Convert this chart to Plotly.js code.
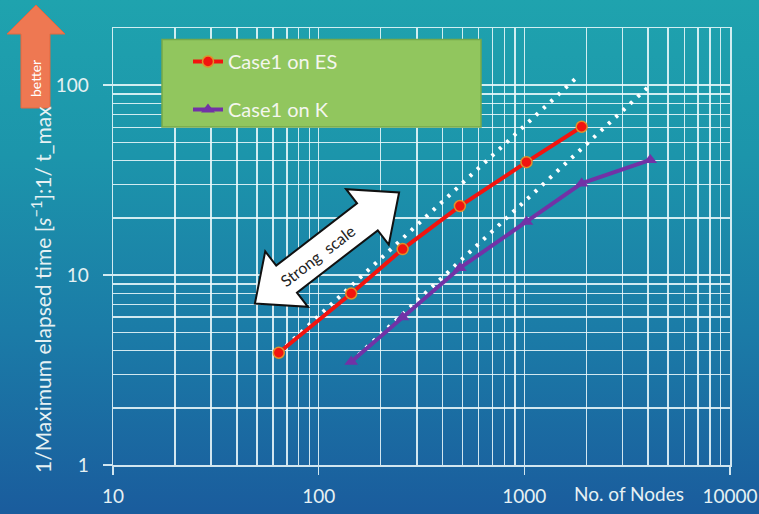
<!DOCTYPE html>
<html>
<head>
<meta charset="utf-8">
<script src="https://cdn.plot.ly/plotly-3.0.1.min.js"></script>
<style>
  html, body { margin: 0; padding: 0; }
  #chart {
    width: 759px; height: 514px;
    background: linear-gradient(180deg, #1fa3ae 0%, #1c95ab 30%, #1b7ba7 65%, #1a5c9d 100%);
  }
</style>
</head>
<body>
<div id="chart"></div>
<script>
// Strong-scaling results: node count vs. 1 / maximum elapsed time
const nodesES = [64, 144, 256, 486, 1024, 1900];
const rateES  = [3.9, 8.0, 13.7, 23.1, 39.3, 60.4];

const nodesK  = [144, 256, 486, 1024, 1900, 4096];
const rateK   = [3.5, 6.0, 10.9, 19.1, 30.4, 40.4];

// Ideal-scaling guide lines
const idealNodesES = [64, 1820];
const idealRateES  = [3.9, 111];
const idealNodesK  = [144, 4096];
const idealRateK   = [3.5, 100];

const xTickVals = [10, 100, 1000, 10000];
const xTickText = ['10', '100', '1000', '10000'];
const yTickVals = [1, 10, 100];
const yTickText = ['1', '10', '100'];

const seriesNames = ['Case1 on ES', 'Case1 on K'];

// Plot-area geometry (pixels) used for the decorative overlays
const W = 759, H = 514;
const M = { l: 113, r: 29, t: 28, b: 49 };
const PW = W - M.l - M.r, PH = H - M.t - M.b;
const px2x = p => (p - M.l) / PW;
const px2y = p => (H - M.b - p) / PH;

function pathFrom(points) {
  return 'M ' + points.map(p => px2x(p[0]).toFixed(5) + ',' + px2y(p[1]).toFixed(5)).join(' L ') + ' Z';
}

// "better" arrow in the top-left corner
const betterArrow = pathFrom([
  [36, 5], [65, 34], [50, 34], [50, 108], [21, 108], [21, 34], [7, 34]
]);

// Double-headed "Strong scale" arrow
const ang = 37.6 * Math.PI / 180;
const cx = 327, cy = 248;
const d = [Math.cos(ang), -Math.sin(ang)];
const n = [Math.sin(ang), Math.cos(ang)];
const half = 91, headLen = 40, headHalf = 35, shaftHalf = 17;
const local = [
  [half, 0], [half - headLen, headHalf], [half - headLen, shaftHalf],
  [-half + headLen, shaftHalf], [-half + headLen, headHalf], [-half, 0],
  [-half + headLen, -headHalf], [-half + headLen, -shaftHalf],
  [half - headLen, -shaftHalf], [half - headLen, -headHalf]
];
const strongArrow = pathFrom(local.map(([u, v]) => [cx + u * d[0] + v * n[0], cy + u * d[1] + v * n[1]]));
const txtU = -12;
const strongTxt = [cx + txtU * d[0], cy + txtU * d[1]];

// Minor grid values 2..9 within each decade
function minorVals(lo, hi) {
  const out = [];
  for (let dec = lo; dec < hi; dec *= 10) {
    for (let k = 2; k <= 9; k++) out.push(dec * k);
  }
  return out;
}

const gridCol = 'rgba(235,248,250,0.88)';
const textCol = '#e6f1f3';
const font = 'Lato, "Open Sans", sans-serif';

const traces = [
  {
    x: idealNodesES, y: idealRateES, mode: 'lines', showlegend: false, hoverinfo: 'skip',
    line: { color: '#ffffff', width: 4, dash: '3px,7px' }
  },
  {
    x: idealNodesK, y: idealRateK, mode: 'lines', showlegend: false, hoverinfo: 'skip',
    line: { color: '#ffffff', width: 4, dash: '3px,7px' }
  },
  {
    x: nodesES, y: rateES, name: seriesNames[0], mode: 'lines+markers', legendgroup: 'es',
    line: { color: '#f2140f', width: 4 },
    marker: { symbol: 'circle', size: 11, color: '#f2140f', line: { color: '#e0902a', width: 1.5 } }
  },
  {
    x: nodesK, y: rateK, name: seriesNames[1], mode: 'lines+markers', legendgroup: 'k',
    line: { color: '#7232a6', width: 4 },
    marker: { symbol: 'triangle-up', size: 12, color: '#7232a6' }
  }
];

const layout = {
  width: W, height: H,
  margin: M,
  paper_bgcolor: 'rgba(0,0,0,0)',
  plot_bgcolor: 'rgba(0,0,0,0)',
  font: { family: font, color: textCol, size: 19 },
  showlegend: true,
  legend: {
    x: px2x(188), y: px2y(42), xanchor: 'left', yanchor: 'top',
    bgcolor: 'rgba(0,0,0,0)', borderwidth: 0,
    font: { family: font, size: 20, color: '#f4f6ee' },
    traceorder: 'grouped', tracegroupgap: 19
  },
  xaxis: {
    type: 'log', range: [1, 4],
    tickmode: 'array', tickvals: xTickVals, ticktext: xTickText,
    ticks: 'outside', ticklen: 8, tickwidth: 1.5, tickcolor: gridCol,
    ticklabelstandoff: 6,
    showgrid: true, gridcolor: gridCol, gridwidth: 1.5,
    showline: true, linecolor: gridCol, linewidth: 1.5, mirror: true,
    minor: { tickmode: 'array', tickvals: minorVals(10, 10000), showgrid: true, gridcolor: gridCol, gridwidth: 1.5, ticks: '' },
    zeroline: false, tickfont: { family: font, size: 19, color: textCol }
  },
  yaxis: {
    type: 'log', range: [0, Math.log10(200)],
    tickmode: 'array', tickvals: yTickVals, ticktext: yTickText,
    ticks: 'outside', ticklen: 9, tickwidth: 1.5, tickcolor: gridCol,
    ticklabelstandoff: 10,
    showgrid: true, gridcolor: gridCol, gridwidth: 1.5,
    showline: true, linecolor: gridCol, linewidth: 1.5, mirror: true,
    minor: { tickmode: 'array', tickvals: minorVals(1, 100), showgrid: true, gridcolor: gridCol, gridwidth: 1.5, ticks: '' },
    zeroline: false, tickfont: { family: font, size: 19, color: textCol }
  },
  shapes: [
    {
      type: 'rect', xref: 'paper', yref: 'paper', layer: 'above',
      x0: px2x(162), x1: px2x(481), y0: px2y(127), y1: px2y(39.5),
      fillcolor: '#91c65e', line: { color: '#76a84a', width: 1.5 }
    },
    {
      type: 'path', xref: 'paper', yref: 'paper', layer: 'above', path: betterArrow,
      fillcolor: '#ee7852', line: { color: '#e4693f', width: 1 }
    },
    {
      type: 'path', xref: 'paper', yref: 'paper', layer: 'above', path: strongArrow,
      fillcolor: '#ffffff', line: { color: '#111111', width: 2 }
    }
  ],
  annotations: [
    {
      xref: 'paper', yref: 'paper', x: px2x(41), y: px2y(290), showarrow: false,
      xanchor: 'center', yanchor: 'middle',
      text: '1/Maximum elapsed time [<i>s</i><sup>−1</sup>]:1/ t_max', textangle: -90,
      font: { family: font, size: 21, color: textCol }
    },
    {
      xref: 'paper', yref: 'paper', x: px2x(629), y: px2y(494), showarrow: false,
      xanchor: 'center', yanchor: 'middle',
      text: 'No. of Nodes', font: { family: font, size: 19, color: textCol }
    },
    {
      xref: 'paper', yref: 'paper', x: px2x(36), y: px2y(79), showarrow: false,
      xanchor: 'center', yanchor: 'middle',
      text: 'better', textangle: 270, font: { family: font, size: 14, color: '#ffffff' }
    },
    {
      xref: 'paper', yref: 'paper', x: px2x(strongTxt[0]), y: px2y(strongTxt[1]), showarrow: false,
      xanchor: 'center', yanchor: 'middle',
      text: 'Strong  scale', textangle: -37.6, font: { family: font, size: 16, color: '#222222' }
    }
  ]
};

Plotly.newPlot('chart', traces, layout, { displayModeBar: false, staticPlot: true });
</script>
</body>
</html>
